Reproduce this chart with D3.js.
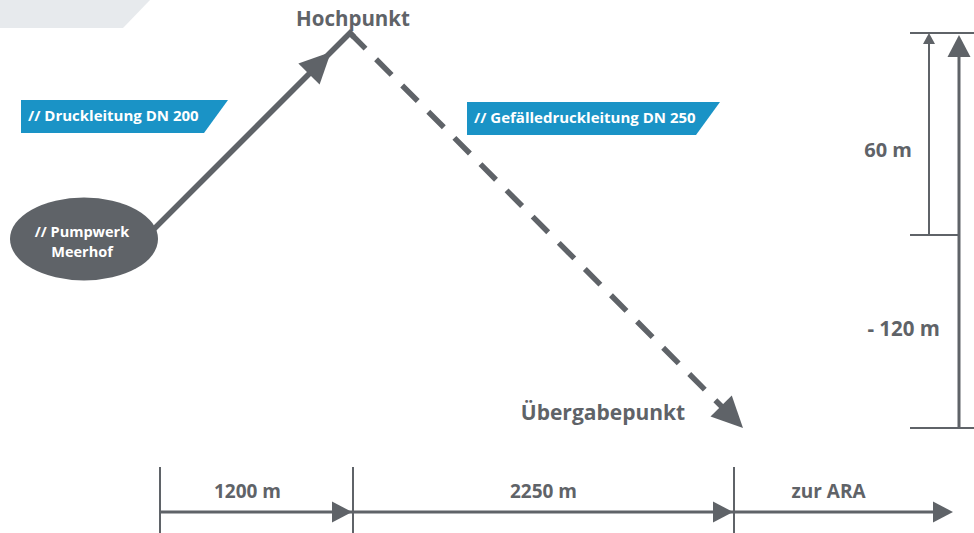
<!DOCTYPE html>
<html>
<head>
<meta charset="utf-8">
<script src="https://cdn.jsdelivr.net/npm/d3@7"></script>
<style>
  body { margin: 0; background: #fff; }
  svg { display: block; font-family: "Open Sans", sans-serif; font-weight: bold; }
</style>
</head>
<body>
<svg></svg>
<script>
// stations along the pipe, cumulative distance (m) and elevation relative to the pumping station (m)
var stations = ['// Pumpwerk|Meerhof', 'Hochpunkt', 'Übergabepunkt'];
var distances = [0, 1200, 3450];
var elevations = [0, 60, -60];

// bottom distance axis
var segEnds = [0, 1200, 3450, 4850];
var segLabels = ['1200 m', '2250 m', 'zur ARA'];

// right height axis
var heightLabels = ['60 m', '- 120 m'];

var pipeLabels = ['// Druckleitung DN 200', '// Gefälledruckleitung DN 250'];

var width = 974,
    height = 533,
    gray = '#5f6368',
    blue = '#1a93c6';

var svg = d3.select('svg')
    .attr('width', width)
    .attr('height', height);

// scales (the drawing is schematic, so they are piecewise)
var x = d3.scaleLinear().domain(segEnds).range([160, 353, 734, 953]);
var px = d3.scaleLinear().domain(distances).range([148, 350, 743]);
var y = d3.scaleLinear().domain([-60, 0, 60]).range([428, 235, 33]);

function arrowHead(tip, from, len, half){
    var dx = tip[0] - from[0], dy = tip[1] - from[1];
    var l = Math.sqrt(dx*dx + dy*dy);
    var ux = dx/l, uy = dy/l;
    var bx = tip[0] - ux*len, by = tip[1] - uy*len;
    return [[tip[0], tip[1]], [bx - uy*half, by + ux*half], [bx + uy*half, by - ux*half]];
}
function along(p, q, d){
    var dx = q[0] - p[0], dy = q[1] - p[1];
    var l = Math.sqrt(dx*dx + dy*dy);
    return [p[0] + dx/l*d, p[1] + dy/l*d];
}
var line = d3.line();

// light corner shape top left
svg.append('path')
    .attr('d', line([[0,0],[150,0],[123,28],[0,28]]) + 'Z')
    .attr('fill', '#e7eaed');

// profile
var pts = distances.map(function(d,i){ return [px(d), y(elevations[i])]; });

svg.append('path')
    .attr('d', line([pts[0], pts[1], along(pts[1], pts[2], 6)]))
    .attr('fill', 'none')
    .attr('stroke', gray)
    .attr('stroke-width', 5.5)
    .attr('stroke-linejoin', 'miter');

var endBase = along(pts[2], pts[1], 30);
svg.append('path')
    .attr('d', line([pts[1], endBase]))
    .attr('fill', 'none')
    .attr('stroke', gray)
    .attr('stroke-width', 5.5)
    .attr('stroke-dasharray', '22 15');

var midTip = along(pts[1], pts[0], 27);
svg.append('path')
    .attr('d', line(arrowHead(midTip, pts[0], 31, 15)) + 'Z')
    .attr('fill', gray);
svg.append('path')
    .attr('d', line(arrowHead(pts[2], pts[1], 31, 15)) + 'Z')
    .attr('fill', gray);

// pumping station
var pump = svg.append('g')
    .attr('transform', 'translate(' + (pts[0][0] - 64) + ',' + (pts[0][1] + 4) + ')');
pump.append('ellipse')
    .attr('rx', 74)
    .attr('ry', 41.5)
    .attr('fill', gray);
pump.selectAll('text')
    .data(stations[0].split('|'))
    .join('text')
    .attr('x', -2)
    .attr('y', function(d,i){ return -2 + i*20; })
    .attr('text-anchor', 'middle')
    .attr('fill', '#fff')
    .attr('font-size', 14.5)
    .text(function(d){ return d; });

svg.append('text')
    .attr('x', pts[1][0] + 3)
    .attr('y', 26)
    .attr('text-anchor', 'middle')
    .attr('fill', gray)
    .attr('font-size', 20.5)
    .text(stations[1]);
svg.append('text')
    .attr('x', pts[2][0] - 140)
    .attr('y', pts[2][1] - 8)
    .attr('text-anchor', 'middle')
    .attr('fill', gray)
    .attr('font-size', 21)
    .text(stations[2]);

// pipe labels
var tags = [
    {x: 21, y: 100, w: 207, text: pipeLabels[0]},
    {x: 467, y: 102, w: 253, text: pipeLabels[1]}
];
tags.forEach(function(t){
    svg.append('path')
        .attr('d', line([[t.x, t.y], [t.x + t.w, t.y], [t.x + t.w - 24, t.y + 33], [t.x, t.y + 33]]) + 'Z')
        .attr('fill', blue);
    svg.append('text')
        .attr('x', t.x + 7)
        .attr('y', t.y + 21)
        .attr('fill', '#fff')
        .attr('font-size', 15)
        .text(t.text);
});

// height axis on the right
var ax = 929, bx = 959;
[[910, 974, 60], [910, bx, 0], [910, 974, -60]].forEach(function(h){
    svg.append('line')
        .attr('x1', h[0]).attr('x2', h[1])
        .attr('y1', y(h[2])).attr('y2', y(h[2]))
        .attr('stroke', gray)
        .attr('stroke-width', 2);
});
svg.append('line')
    .attr('x1', ax).attr('x2', ax)
    .attr('y1', y(0)).attr('y2', y(60) + 8)
    .attr('stroke', gray).attr('stroke-width', 2);
svg.append('path')
    .attr('d', line([[ax, y(60)], [ax + 6, y(60) + 11], [ax - 6, y(60) + 11]]) + 'Z')
    .attr('fill', gray);
svg.append('line')
    .attr('x1', bx).attr('x2', bx)
    .attr('y1', y(-60)).attr('y2', y(60) + 18)
    .attr('stroke', gray).attr('stroke-width', 3);
svg.append('path')
    .attr('d', line([[bx, y(60) + 2], [bx + 11.5, y(60) + 24], [bx - 11.5, y(60) + 24]]) + 'Z')
    .attr('fill', gray);

svg.append('text')
    .attr('x', ax - 17)
    .attr('y', (y(0) + y(60))/2 + 23)
    .attr('text-anchor', 'end')
    .attr('fill', gray)
    .attr('font-size', 20)
    .text(heightLabels[0]);
svg.append('text')
    .attr('x', bx - 19)
    .attr('y', (y(0) + y(-60))/2 + 4)
    .attr('text-anchor', 'end')
    .attr('fill', gray)
    .attr('font-size', 20.5)
    .text(heightLabels[1]);

// distance axis at the bottom
var axisY = 512;
svg.append('line')
    .attr('x1', x(segEnds[0])).attr('x2', x(segEnds[3]) - 10)
    .attr('y1', axisY).attr('y2', axisY)
    .attr('stroke', gray).attr('stroke-width', 3);
svg.selectAll('.tick')
    .data(segEnds.slice(0, 3))
    .join('line')
    .attr('class', 'tick')
    .attr('x1', function(d){ return x(d); })
    .attr('x2', function(d){ return x(d); })
    .attr('y1', 467).attr('y2', height)
    .attr('stroke', gray).attr('stroke-width', 2);
var labelShift = [-9, 0, -15];
segLabels.forEach(function(s, i){
    var a = x(segEnds[i]), b = x(segEnds[i+1]);
    var tip = i < 2 ? b - 1 : b;
    svg.append('path')
        .attr('d', line([[tip, axisY], [tip - 20, axisY - 10.5], [tip - 20, axisY + 10.5]]) + 'Z')
        .attr('fill', gray);
    svg.append('text')
        .attr('x', (a + b)/2 + labelShift[i])
        .attr('y', 498)
        .attr('text-anchor', 'middle')
        .attr('fill', gray)
        .attr('font-size', 19)
        .text(s);
});
</script>
</body>
</html>
